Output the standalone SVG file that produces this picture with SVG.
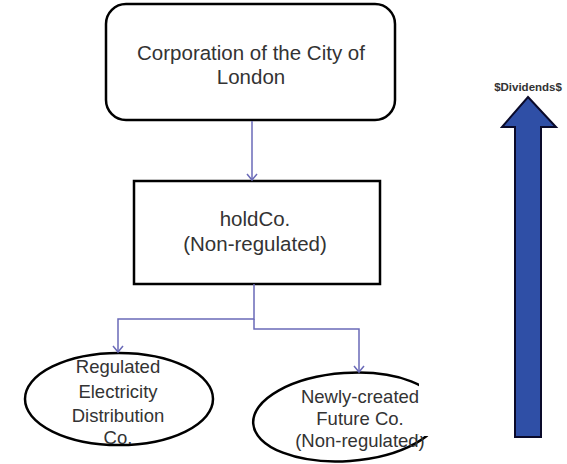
<svg xmlns="http://www.w3.org/2000/svg" width="567" height="464" viewBox="0 0 567 464">
<defs>
<style>
.box{fill:#fff;stroke:#000;stroke-width:2.5}
.t{font-family:"Liberation Sans",Arial,sans-serif;fill:#333;text-anchor:middle}
.big{font-size:20.5px}
.mid{font-size:18.5px}
.conn{fill:none;stroke:#6a6ab8;stroke-width:1.5}
</style>
<marker id="ah" markerWidth="12" markerHeight="12" refX="10" refY="6" orient="auto" markerUnits="userSpaceOnUse" viewBox="0 0 12 12">
<path d="M4,1 L10,6 L4,11" fill="none" stroke="#6a6ab8" stroke-width="1.5"/>
</marker>
</defs>
<rect width="567" height="464" fill="#fff"/>
<g id="corporation">
<rect class="box" x="106" y="4" width="289" height="116" rx="20"/>
<text class="t big" x="251" y="60">Corporation of the City of</text>
<text class="t big" x="251" y="84">London</text>
</g>
<g id="holdco">
<rect class="box" x="134" y="181" width="246" height="103"/>
<text class="t big" x="255" y="226">holdCo.</text>
<text class="t big" x="255" y="251">(Non-regulated)</text>
</g>
<g id="regulated">
<ellipse class="box" cx="119" cy="399" rx="94" ry="46"/>
<text class="t mid" x="118" y="373">Regulated</text>
<text class="t mid" x="118" y="398">Electricity</text>
<text class="t mid" x="118" y="422">Distribution</text>
<text class="t mid" x="118" y="444">Co.</text>
</g>
<g id="future">
<ellipse class="box" cx="347" cy="417" rx="94" ry="44" transform="rotate(-4 347 417)"/>
<text class="t mid" x="360" y="403" font-size="18">Newly-created</text>
<text class="t mid" x="360" y="425">Future Co.</text>
<text class="t mid" x="360" y="447">(Non-regulated)</text>
<rect x="419" y="362" width="30" height="74" fill="#fff"/>
</g>
<g id="dividends">
<polygon points="528,97 556,127 541,127 541,437 515,437 515,127 502,127" fill="#2f4fa6" stroke="#0a0a2a" stroke-width="2" stroke-linejoin="miter"/>
<text class="t" x="528" y="91" font-size="11.5" font-weight="bold" fill="#555">$Dividends$</text>
</g>
<g id="connectors">
<line class="conn" x1="252" y1="121" x2="252" y2="180" marker-end="url(#ah)"/>
<path class="conn" d="M254,284 V319 H118 V352" marker-end="url(#ah)"/>
<path class="conn" d="M254,319 V329 H359 V372" marker-end="url(#ah)"/>
</g>
</svg>
